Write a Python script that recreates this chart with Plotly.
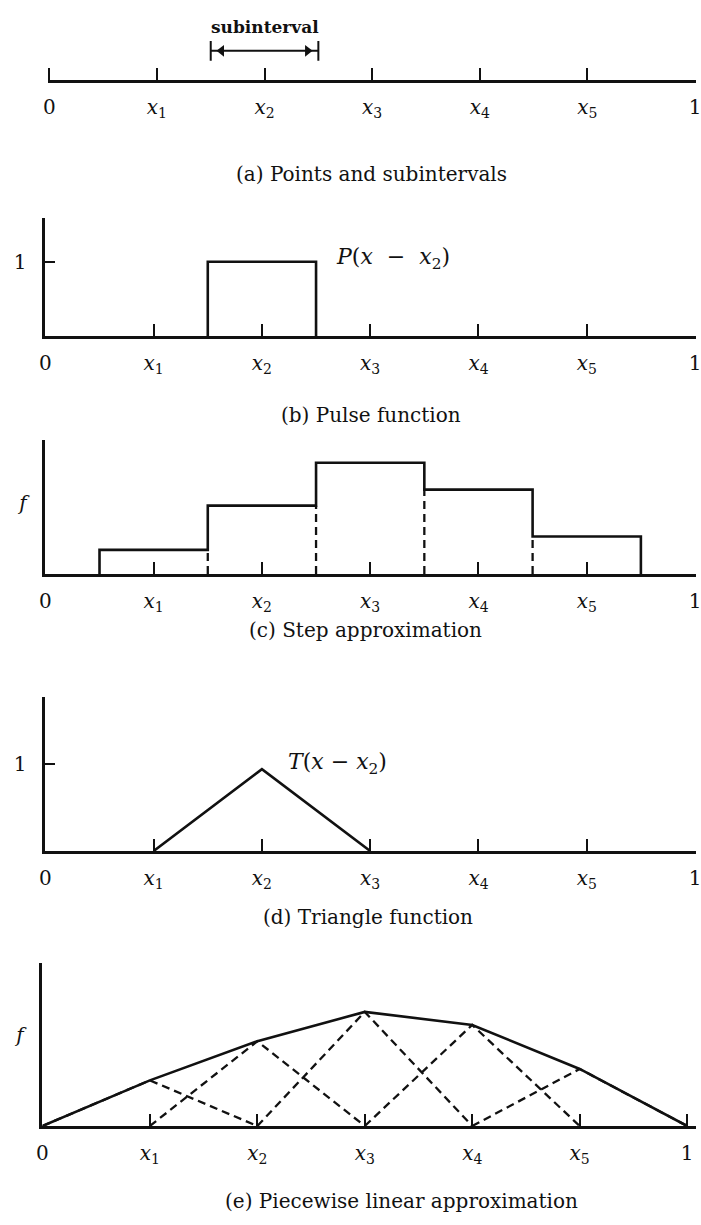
import plotly.graph_objects as go

# ---- data -------------------------------------------------------------
nodes = [0, 1, 2, 3, 4, 5, 6]
node_labels = ["0", "<i>x</i><sub>1</sub>", "<i>x</i><sub>2</sub>", "<i>x</i><sub>3</sub>",
               "<i>x</i><sub>4</sub>", "<i>x</i><sub>5</sub>", "1"]

subinterval = [1.5, 2.5]          # interval around x2
pulse_edges = [1.5, 2.5]          # P(x - x2) support
pulse_height = 1.0

step_nodes = [1, 2, 3, 4, 5]      # step centres
step_values = [0.18, 0.51, 0.83, 0.63, 0.28]

tri_nodes = [1, 2, 3]             # T(x - x2) base, peak, base
tri_values = [0, 0.94, 0]

pl_values = [0, 0.28, 0.52, 0.70, 0.62, 0.35, 0]   # piecewise-linear f at nodes

captions = ["(a) Points and subintervals", "(b) Pulse function", "(c) Step approximation",
            "(d) Triangle function", "(e) Piecewise linear approximation"]

# ---- layout helpers ----------------------------------------------------
W, H = 701, 1225
FONT = "DejaVu Serif"
INK = "#111111"
LW = 2.6
NB = "\u00a0"


def py(p):
    return 1 - p / H


fig = go.Figure()


def xa(start_px, end_px, ax_anchor, lo=0.0):
    # node 0 sits at start_px, node 6 at end_px; the axis runs to the right edge
    unit = (end_px - start_px) / 6
    return dict(domain=[(start_px + lo * unit) / W, 1], range=[lo, (W - start_px) / unit], anchor=ax_anchor,
                showgrid=False, zeroline=False, showline=True, linewidth=LW, linecolor=INK,
                ticks="inside", ticklen=12, tickwidth=2, tickcolor=INK,
                tickvals=nodes, ticktext=node_labels, ticklabelstandoff=7, ticklabeloverflow="allow",
                tickfont=dict(family=FONT, size=20, color=INK), fixedrange=True)


def ya(bottom_px, top_px, rmax, x_anchor, show=True, tv=None, tt=None, tl=10):
    return dict(domain=[py(bottom_px), py(top_px)], range=[0, rmax], anchor=x_anchor,
                showgrid=False, zeroline=False, showline=show, linewidth=LW, linecolor=INK,
                ticks="inside" if (show and tl) else "", ticklen=tl, tickwidth=2, tickcolor=INK,
                tickvals=tv or [], ticktext=tt or [], ticklabelstandoff=12,
                tickfont=dict(family=FONT, size=20, color=INK), fixedrange=True)


layout = dict(width=W, height=H, margin=dict(l=0, r=0, t=0, b=0),
              paper_bgcolor="white", plot_bgcolor="rgba(0,0,0,0)", showlegend=False)

# panel (a): bare number line, tick at 0 kept visible
layout["xaxis"] = xa(44, 700, "y", lo=-0.01)
layout["yaxis"] = ya(80, 18, 1.0, "x", show=False)
# panel (b)
layout["xaxis2"] = xa(40, 700, "y2")
layout["yaxis2"] = ya(336, 218, 1.59, "x2", tv=[1], tt=["1"])
# panel (c)
layout["xaxis3"] = xa(40, 700, "y3")
layout["yaxis3"] = ya(574, 440, 1.0, "x3", tv=[0.53], tt=["<i>f</i>"], tl=0)
# panel (d)
layout["xaxis4"] = xa(40, 700, "y4")
layout["yaxis4"] = ya(851, 697, 1.77, "x4", tv=[1], tt=["1"])
# panel (e)
layout["xaxis5"] = xa(37, 692, "y5")
layout["yaxis5"] = ya(1126, 963, 1.0, "x5", tv=[0.56], tt=["<i>f</i>"], tl=0)

solid = dict(color=INK, width=LW)
dashed = dict(color=INK, width=2.3, dash="8px,5px")

# (a) subinterval arrow
arr_y = 0.47
fig.add_trace(go.Scatter(x=subinterval, y=[arr_y, arr_y], mode="lines", line=dict(color=INK, width=2),
                         xaxis="x", yaxis="y", hoverinfo="skip"))
fig.add_trace(go.Scatter(x=subinterval, y=[arr_y, arr_y], mode="markers",
                         marker=dict(symbol="line-ns", size=14, line=dict(color=INK, width=2)),
                         xaxis="x", yaxis="y", hoverinfo="skip"))
fig.add_trace(go.Scatter(x=[subinterval[0] + 0.1, subinterval[1] - 0.1], y=[arr_y, arr_y], mode="markers",
                         marker=dict(symbol=["triangle-left", "triangle-right"], size=10, color=INK),
                         xaxis="x", yaxis="y", hoverinfo="skip"))

# (b) pulse
bx = [pulse_edges[0], pulse_edges[0], pulse_edges[1], pulse_edges[1]]
by = [0, pulse_height, pulse_height, 0]
fig.add_trace(go.Scatter(x=bx, y=by, mode="lines", line=solid, xaxis="x2", yaxis="y2", hoverinfo="skip"))

# (c) step approximation
sx, sy = [step_nodes[0] - 0.5], [0]
for c, v in zip(step_nodes, step_values):
    sx += [c - 0.5, c + 0.5]
    sy += [v, v]
sx.append(step_nodes[-1] + 0.5)
sy.append(0)
fig.add_trace(go.Scatter(x=sx, y=sy, mode="lines", line=solid, xaxis="x3", yaxis="y3", hoverinfo="skip"))
for i in range(len(step_nodes) - 1):
    b = step_nodes[i] + 0.5
    fig.add_trace(go.Scatter(x=[b, b], y=[0, min(step_values[i], step_values[i + 1])], mode="lines",
                             line=dashed, xaxis="x3", yaxis="y3", hoverinfo="skip"))

# (d) triangle function
fig.add_trace(go.Scatter(x=tri_nodes, y=tri_values, mode="lines", line=solid,
                         xaxis="x4", yaxis="y4", hoverinfo="skip"))

# (e) piecewise linear approximation and its scaled triangles
for i in range(1, len(nodes) - 1):
    fig.add_trace(go.Scatter(x=[nodes[i - 1], nodes[i], nodes[i + 1]], y=[0, pl_values[i], 0],
                             mode="lines", line=dashed, xaxis="x5", yaxis="y5", hoverinfo="skip"))
fig.add_trace(go.Scatter(x=nodes, y=pl_values, mode="lines", line=solid,
                         xaxis="x5", yaxis="y5", hoverinfo="skip"))

# ---- text --------------------------------------------------------------
ann = []
ann.append(dict(x=sum(subinterval) / 2, y=0.855, xref="x", yref="y", text="<b>subinterval</b>",
                showarrow=False, font=dict(family=FONT, size=17, color=INK)))
minus = NB + NB + "−" + NB + NB
ann.append(dict(x=2.67, y=1.04, xref="x2", yref="y2",
                text="<i>P</i>(<i>x</i>" + minus + "<i>x</i><sub>2</sub>)",
                xanchor="left", showarrow=False, font=dict(family=FONT, size=22, color=INK)))
ann.append(dict(x=2.22, y=1.01, xref="x4", yref="y4",
                text="<i>T</i>(<i>x</i>" + NB + "−" + NB + "<i>x</i><sub>2</sub>)",
                xanchor="left", showarrow=False, font=dict(family=FONT, size=22, color=INK)))
cap_pos = [(371, 160), (371, 415), (365, 630), (368, 931), (402, 1215)]
for text, (cx, cy) in zip(captions, cap_pos):
    ann.append(dict(x=cx / W, y=py(cy), xref="paper", yref="paper", text=text, showarrow=False,
                    font=dict(family=FONT, size=20, color=INK)))
layout["annotations"] = ann

fig.update_layout(**layout)
fig.write_html("out.html")
